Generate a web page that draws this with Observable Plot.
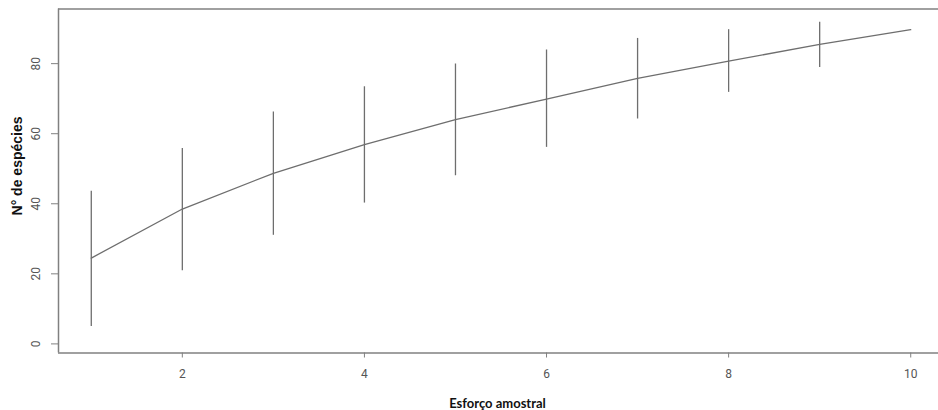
<!DOCTYPE html>
<html>
<head>
<meta charset="utf-8">
<script src="https://cdn.jsdelivr.net/npm/d3@7"></script>
<script src="https://cdn.jsdelivr.net/npm/@observablehq/plot@0.6"></script>
<style>
  html, body { margin: 0; padding: 0; background: #fff; overflow: hidden; width: 938px; height: 410px; }
  #chart { width: 938px; height: 410px; overflow: hidden; }
  #chart svg { display: block; max-width: none !important; overflow: hidden !important; }
</style>
</head>
<body>
<div id="chart"></div>
<script>
// Data (species accumulation curve)
const esforco = [1, 2, 3, 4, 5, 6, 7, 8, 9, 10];
const especies = [24.5, 38.5, 48.7, 56.9, 64.0, 69.9, 75.8, 80.7, 85.5, 89.7];
const limInf = [5.0, 20.9, 31.0, 40.2, 48.0, 56.1, 64.2, 71.8, 78.9, 89.7];
const limSup = [43.6, 55.8, 66.2, 73.4, 79.9, 83.9, 87.2, 89.7, 91.8, 89.7];
const xTicks = [2, 4, 6, 8, 10];
const yTicks = [0, 20, 40, 60, 80];
const xDomain = [0.64, 10.36];
const yDomain = [-2.6, 95.6];
const xTitle = "Esforço amostral";
const yTitle = "N° de espécies";

const data = esforco.map((x, i) => ({x, y: especies[i], lo: limInf[i], hi: limSup[i]}));
const bars = data.filter(d => d.hi > d.lo);

const gray = "#6e6e6e";
const frameGray = "#808080";
const tickFont = "'Liberation Sans Narrow', Roboto, sans-serif";

const chart = Plot.plot({
  width: 938,
  height: 410,
  marginLeft: 58,
  marginRight: 0,
  marginTop: 8.5,
  marginBottom: 57.5,
  style: {background: "#fff", maxWidth: "none", overflow: "hidden"},
  // the plot box continues a few pixels past the right edge of the picture
  x: {domain: xDomain, range: [58, 943]},
  y: {domain: yDomain},
  marks: [
    Plot.ruleY(yDomain, {stroke: frameGray, strokeWidth: 1.5}),
    Plot.ruleX([xDomain[0]], {stroke: frameGray, strokeWidth: 1.5}),
    Plot.axisX(xTicks, {tickSize: 5, tickPadding: 11, stroke: frameGray, fill: "#555", fontSize: 12, fontFamily: tickFont, label: null}),
    Plot.axisY(yTicks, {tickSize: 7, stroke: frameGray, text: null, label: null}),
    Plot.text(yTicks, {y: d => d, text: d => String(d), frameAnchor: "left", dx: -22, rotate: -90, textAnchor: "middle", lineAnchor: "middle", fill: "#555", fontSize: 12, fontFamily: tickFont}),
    Plot.ruleX(bars, {x: "x", y1: "lo", y2: "hi", stroke: gray, strokeWidth: 1.3}),
    Plot.line(data, {x: "x", y: "y", stroke: gray, strokeWidth: 1.3}),
    Plot.text([xTitle], {text: d => d, frameAnchor: "bottom", dy: 50.5, x: () => 5.5, dx: -3.5, lineAnchor: "middle", fontWeight: "bold", fontSize: 13, fontFamily: "Lato, sans-serif", fill: "#111"}),
    Plot.text([yTitle], {text: d => d, frameAnchor: "left", dx: -41, dy: -15, rotate: -90, textAnchor: "middle", lineAnchor: "middle", fontWeight: "bold", fontSize: 14, fontFamily: "'Liberation Sans', Arial, sans-serif", fill: "#111"})
  ]
});
chart.style.maxWidth = "none";
document.getElementById("chart").appendChild(chart);
</script>
</body>
</html>
